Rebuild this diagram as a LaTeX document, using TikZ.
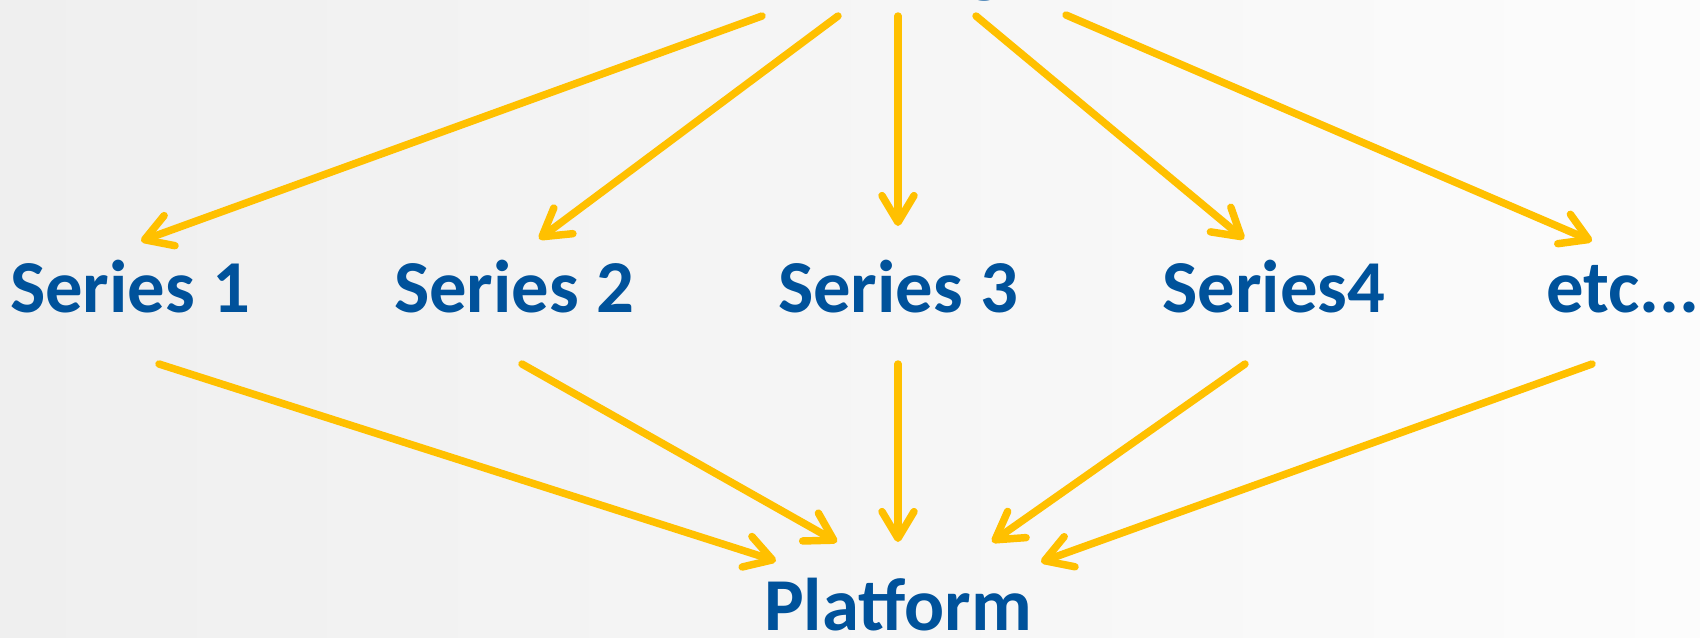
\documentclass[tikz,border=0pt]{standalone}
\usepackage{fontspec}
\setmainfont{Carlito}
\usetikzlibrary{arrows.meta,calc}

\definecolor{seriesblue}{RGB}{0,82,155}
\definecolor{feedgold}{RGB}{255,192,0}

\tikzset{
  lbl/.style={anchor=base,inner sep=0.75pt,text=seriesblue,font=\fontsize{56}{60}\selectfont\bfseries},
  feed/.style={draw=feedgold,line width=5.6pt,line cap=round,-{Straight Barb[length=20pt,width=24pt,round]}}
}

\begin{document}
\begin{tikzpicture}[x=0.75pt,y=0.75pt,yscale=-1,xscale=1]

	\useasboundingbox (0,0) rectangle (1700,637);
	\shade [left color={rgb,255:red,239;green,239;blue,239}, right color={rgb,255:red,252;green,252;blue,252}] (0,0) rectangle (1700,637);

	\node [lbl] (top) at (898,-12) {Styling};
	\node [lbl] (s1) at (130,312) {Series 1};
	\node [lbl] (s2) at (514,312) {Series 2};
	\node [lbl] (s3) at (898,312) {Series 3};
	\node [lbl] (s4) at (1274,312) {Series4};
	\node [lbl] (etc) at (1623,312) {etc...};
	\node [lbl] (plat) at (898,630) {Platform};

	% top row to series
	\draw [feed] ($(top.base)+(-136,28)$) -- ($(s1.base)+(11,-71)$) ;
	\draw [feed] ($(top.base)+(-60,28)$) -- ($(s2.base)+(25,-73)$) ;
	\draw [feed] ($(top.base)+(0,28)$) -- ($(s3.base)+(0,-86)$) ;
	\draw [feed] ($(top.base)+(78,28)$) -- ($(s4.base)+(-30,-73)$) ;
	\draw [feed] ($(top.base)+(168,27)$) -- ($(etc.base)+(-31,-71)$) ;

	% series to platform
	\draw [feed] ($(s1.base)+(29,52)$) -- ($(plat.base)+(-122,-69)$) ;
	\draw [feed] ($(s2.base)+(8,52)$) -- ($(plat.base)+(-61,-88)$) ;
	\draw [feed] ($(s3.base)+(0,52)$) -- ($(plat.base)+(0,-88)$) ;
	\draw [feed] ($(s4.base)+(-29,52)$) -- ($(plat.base)+(94,-88)$) ;
	\draw [feed] ($(etc.base)+(-31,52)$) -- ($(plat.base)+(143,-68)$) ;

\end{tikzpicture}
\end{document}
